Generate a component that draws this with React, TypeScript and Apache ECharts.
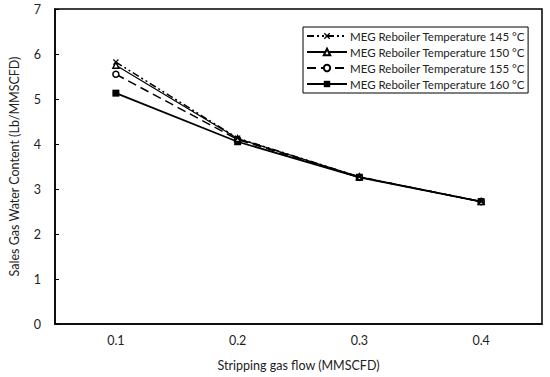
import React, { useEffect, useRef } from "react";
import * as echarts from "echarts";

const categories = ["0.1", "0.2", "0.3", "0.4"];
const yTicks = [0, 1, 2, 3, 4, 5, 6, 7];
const names = [
  "MEG Reboiler Temperature 145 °C",
  "MEG Reboiler Temperature 150 °C",
  "MEG Reboiler Temperature 155 °C",
  "MEG Reboiler Temperature 160 °C",
];
const s145 = [5.82, 4.13, 3.27, 2.72];
const s150 = [5.75, 4.12, 3.27, 2.72];
const s155 = [5.55, 4.1, 3.26, 2.72];
const s160 = [5.13, 4.05, 3.26, 2.72];

const FONT = "Lato";

export default function App() {
  const ref = useRef<HTMLDivElement>(null);
  useEffect(() => {
    const chart = echarts.init(ref.current!, null, { renderer: "svg" });
    const xPath =
      "path://M0,1.5L1.5,0L5,3.5L8.5,0L10,1.5L6.5,5L10,8.5L8.5,10L5,6.5L1.5,10L0,8.5L3.5,5Z";
    const base = (name: string, data: number[]) => ({
      name,
      type: "line",
      data,
      color: "#000",
    });
    chart.setOption({
      animation: false,
      backgroundColor: "#fff",
      textStyle: { fontFamily: FONT },
      grid: {
        left: 50,
        right: 8,
        top: 9,
        bottom: 53,
        show: true,
        borderColor: "#000",
        borderWidth: 1.5,
      },
      legend: {
        orient: "vertical",
        left: 303,
        top: 27,
        itemGap: 4,
        itemWidth: 40,
        itemHeight: 8,
        padding: [3, 3, 3, 3],
        borderColor: "#000",
        borderWidth: 1,
        backgroundColor: "#fff",
        textStyle: { fontFamily: FONT, fontSize: 11.5, color: "#222", padding: [0, 0, 0, -2] },
        data: names,
      },
      xAxis: {
        type: "category",
        data: categories,
        boundaryGap: true,
        name: "Stripping gas flow (MMSCFD)",
        nameLocation: "middle",
        nameGap: 35,
        nameTextStyle: { fontFamily: FONT, fontSize: 12.5, color: "#222" },
        axisLine: { lineStyle: { color: "#000", width: 1.5 } },
        axisTick: { inside: true, length: 4, lineStyle: { color: "#000" } },
        axisLabel: { fontFamily: FONT, fontSize: 12.5, color: "#222", margin: 10 },
        splitLine: { show: false },
      },
      yAxis: {
        type: "value",
        min: 0,
        max: 7,
        interval: 1,
        name: "Sales Gas Water Content (Lb/MMSCFD)",
        nameLocation: "middle",
        nameGap: 34,
        nameTextStyle: { fontFamily: FONT, fontSize: 12.5, color: "#222" },
        axisLine: { show: true, lineStyle: { color: "#000", width: 1.5 } },
        axisTick: { show: true, inside: true, length: 4, lineStyle: { color: "#000" } },
        axisLabel: { fontFamily: FONT, fontSize: 12.5, color: "#222", margin: 14 },
        splitLine: { show: false },
      },
      series: [
        {
          ...base(names[0], s145),
          symbol: xPath,
          symbolSize: 6,
          itemStyle: { color: "#000" },
          lineStyle: { color: "#000", width: 1.5, type: [7, 3, 2, 3, 2, 3] },
          z: 4,
        },
        {
          ...base(names[1], s150),
          symbol: "triangle",
          symbolSize: 6,
          itemStyle: { color: "#fff", borderColor: "#000", borderWidth: 1.5 },
          lineStyle: { color: "#000", width: 1.2, type: "solid" },
          z: 3,
        },
        {
          ...base(names[2], s155),
          symbol: "circle",
          symbolSize: 6,
          itemStyle: { color: "#fff", borderColor: "#000", borderWidth: 1.5 },
          lineStyle: { color: "#000", width: 1.5, type: [9, 5] },
          z: 2,
        },
        {
          ...base(names[3], s160),
          symbol: "rect",
          symbolSize: 7,
          itemStyle: { color: "#000" },
          lineStyle: { color: "#000", width: 1.8, type: "solid" },
          z: 1,
        },
      ],
    });
    return () => chart.dispose();
  }, []);
  return (
    <div
      ref={ref}
      style={{ position: "fixed", left: 0, top: 0, width: 550, height: 377 }}
    />
  );
}
